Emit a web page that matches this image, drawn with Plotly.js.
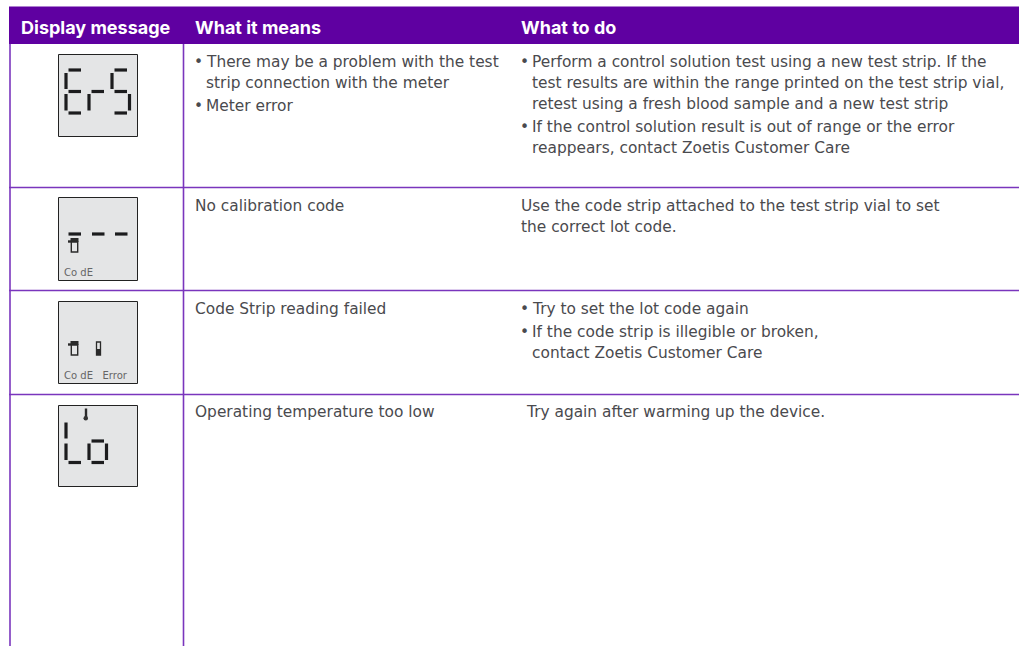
<!DOCTYPE html>
<html><head><meta charset="utf-8">
<script src="https://cdn.plot.ly/plotly-3.0.1.min.js"></script>
<style>html,body{margin:0;padding:0;background:#fff}#c{width:1019px;height:646px}</style>
</head><body><div id="c"></div>
<script>
// ---- content ----
const headers = ["Display message", "What it means", "What to do"];
const meaningRows = [
  [["• ", "There may be a problem with the test"], ["", "strip connection with the meter"], ["• ", "Meter error"]],
  [["", "No calibration code"]],
  [["", "Code Strip reading failed"]],
  [["", "Operating temperature too low"]]
];
const actionRows = [
  [["• ", "Perform a control solution test using a new test strip. If the"],
   ["", "test results are within the range printed on the test strip vial,"],
   ["", "retest using a fresh blood sample and a new test strip"],
   ["• ", "If the control solution result is out of range or the error"],
   ["", "reappears, contact Zoetis Customer Care"]],
  [["", "Use the code strip attached to the test strip vial to set"], ["", "the correct lot code."]],
  [["• ", "Try to set the lot code again"],
   ["• ", "If the code strip is illegible or broken,"],
   ["", "contact Zoetis Customer Care"]],
  [["", "Try again after warming up the device."]]
];
const displayCaptions = ["", "Co dE", "Co dE\u00a0\u00a0\u00a0Error", ""];
const segmentsOfE = ["t","ul","m","ll","b"];
const segmentsOfR = ["m","ll"];
const segmentsOfS = ["t","ul","m","lr","b"];
const segmentsOfL = ["ul","ll","b"];
const segmentsOfO = ["m","ll","lr","b"];
const segmentsOfDash = ["m"];

// ---- geometry / style ----
const W = 1019, H = 646;
const PURPLE = "#5f00a1", RULE = "#7a35bd", INK = "#4a4a4e";
const FONT = "'DejaVu Sans', sans-serif", HEAD = "Inter, sans-serif", SIZE = 15.4;
const colX = [10, 183.5];
const rowLines = [187.5, 290.5, 394.5];
const boxes = [[54,137],[197,281],[301,384],[405,487]];
const meaningX = 193, meaningTextX = 204.5, actionX = 519, actionTextX = 530.5;
const meaningY = [[62,83,106],[206],[309],[412]];
const actionY = [[62,83,104,127,148],[206,227],[309,332,353],[412]];
const annotations = [], shapes = [];

function txt(x, y, text, size, color, weight, family){
  annotations.push({x, y, text, xref:"x", yref:"y", showarrow:false, xanchor:"left", yanchor:"middle",
    align:"left", borderpad:0, font:{family:family||FONT, size, color, weight: weight||400}});
}
txt(19.5, 27, headers[0], 18, "#fff", 700, HEAD);
txt(193.5, 27, headers[1], 18, "#fff", 700, HEAD);
txt(519.5, 27, headers[2], 18, "#fff", 700, HEAD);

meaningRows.forEach((row, r) => row.forEach((ln, i) => {
  if (ln[0]) { txt(meaningX, meaningY[r][i], "•", SIZE, INK); txt(meaningTextX, meaningY[r][i], ln[1], SIZE, INK); }
  else txt(r === 0 ? meaningTextX : 193.5, meaningY[r][i], ln[1], SIZE, INK);
}));
actionRows.forEach((row, r) => row.forEach((ln, i) => {
  let x = 519.5;
  if (r === 0 || r === 2) x = actionTextX;
  if (r === 3) x = 524.5;
  if (ln[0]) txt(actionX, actionY[r][i], "•", SIZE, INK);
  txt(x, actionY[r][i], ln[1], SIZE, INK);
}));

// header band and rules
shapes.push({type:"rect", xref:"x", yref:"y", x0:9, x1:W, y0:6.5, y1:44, fillcolor:PURPLE, line:{width:0}, layer:"below"});
colX.forEach(x => shapes.push({type:"line", xref:"x", yref:"y", x0:x, x1:x, y0:44, y1:H, line:{color:RULE, width:1.6}, layer:"below"}));
rowLines.forEach(y => shapes.push({type:"line", xref:"x", yref:"y", x0:9, x1:W, y0:y, y1:y, line:{color:RULE, width:1.6}, layer:"below"}));
// LCD panels
boxes.forEach(b => shapes.push({type:"rect", xref:"x", yref:"y", x0:58.5, x1:137.5, y0:b[0]+.5, y1:b[1]-.5, fillcolor:"#e4e5e6", line:{color:"#222", width:1}, layer:"below"}));
displayCaptions.forEach((c, i) => { if (c) annotations.push({x:62.5, y:boxes[i][1]-9, text:c, xref:"x", yref:"y", showarrow:false, xanchor:"left", yanchor:"middle", borderpad:0, font:{family:"'DejaVu Sans', sans-serif", size:10, color:"#666"}}); });

// seven-segment glyphs, drawn as one line trace
const sx = [], sy = [];
function seg(x0,y0,x1,y1){ sx.push(x0,x1,null); sy.push(y0,y1,null); }
function glyph(list, left, top, h){
  const w = 17.5, bt = top + 2*h;
  list.forEach(s => {
    if (s==="t") seg(left+2.5, top, left+w-2.5, top);
    if (s==="m") seg(left+2.5, top+h, left+w-2.5, top+h);
    if (s==="b") seg(left+2.5, bt, left+w-2.5, bt);
    if (s==="ul") seg(left, top+3, left, top+h-2.5);
    if (s==="ll") seg(left, top+h+2.5, left, bt-2.5);
    if (s==="ur") seg(left+w, top+3, left+w, top+h-2.5);
    if (s==="lr") seg(left+w, top+h+2.5, left+w, bt-2.5);
  });
}
glyph(segmentsOfE, 66, 70, 21.5);
glyph(segmentsOfR, 89, 70, 21.5);
glyph(segmentsOfS, 112, 70, 21.5);
glyph(segmentsOfL, 66, 419.5, 21.5);
glyph(segmentsOfO, 89, 419.5, 21.5);
glyph(segmentsOfDash, 66, 212.5, 21.5);
glyph(segmentsOfDash, 89.5, 212.5, 21.5);
glyph(segmentsOfDash, 112.5, 212.5, 21.5);

// icon strokes
const ix = [], iy = [];
function ico(x0,y0,x1,y1){ ix.push(x0,x1,null); iy.push(y0,y1,null); }
function vial(cx, top){
  shapes.push({type:"rect", xref:"x", yref:"y", x0:cx-4, x1:cx+4, y0:top, y1:top+4, fillcolor:"#2a2a2a", line:{width:0}, layer:"above"});
  shapes.push({type:"rect", xref:"x", yref:"y", x0:cx-3.2, x1:cx+3.2, y0:top+4, y1:top+14, fillcolor:"rgba(0,0,0,0)", line:{color:"#2a2a2a", width:1.4}, layer:"above"});
  ico(cx-6.5, top+3.5, cx-3.5, top+3.5);
}
vial(74.5, 238);
vial(74.5, 341);
// code strip icon
shapes.push({type:"rect", xref:"x", yref:"y", x0:96.5, x1:100.5, y0:342, y1:355, fillcolor:"rgba(0,0,0,0)", line:{color:"#2a2a2a", width:1.3}, layer:"above"});
shapes.push({type:"rect", xref:"x", yref:"y", x0:96.5, x1:100.5, y0:349, y1:355, fillcolor:"#2a2a2a", line:{width:0}, layer:"above"});
// thermometer icon
ico(86, 408.5, 86, 418);
shapes.push({type:"circle", xref:"x", yref:"y", x0:83.5, x1:88, y0:416, y1:420.5, fillcolor:"#333", line:{width:0}, layer:"above"});

const traces = [
  {type:"scatter", mode:"lines", x:sx, y:sy, line:{color:"#1c1c1e", width:3.2}, hoverinfo:"skip", showlegend:false, connectgaps:false},
  {type:"scatter", mode:"lines", x:ix, y:iy, line:{color:"#2a2a2a", width:2.4}, hoverinfo:"skip", showlegend:false, connectgaps:false}
];
Plotly.newPlot("c", traces, {
  width:W, height:H, margin:{l:0,r:0,t:0,b:0}, paper_bgcolor:"#fff", plot_bgcolor:"#fff", showlegend:false,
  xaxis:{range:[0,W], visible:false, fixedrange:true},
  yaxis:{range:[H,0], visible:false, fixedrange:true},
  shapes, annotations
}, {displayModeBar:false, staticPlot:true});
</script></body></html>
